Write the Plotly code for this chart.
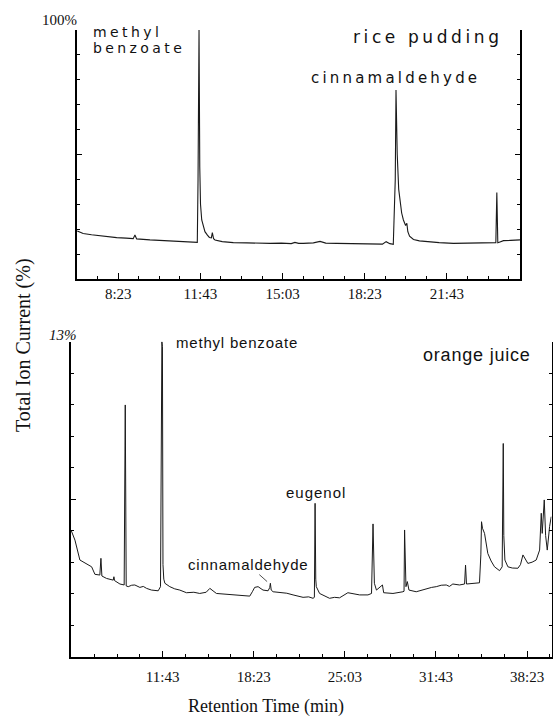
import plotly.graph_objects as go

# ---------------- data ----------------
# Top panel: rice pudding, retention time (min) vs total ion current (% of 100)
rice_time = [6.72, 6.96, 7.30, 7.64, 8.00, 8.32, 8.70, 8.99, 9.06, 9.13, 9.67, 10.00, 10.35,
             10.70, 11.02, 11.30, 11.59, 11.62, 11.66, 11.69, 11.72, 11.77, 11.84, 11.90,
             12.00, 12.08, 12.16, 12.20, 12.25, 12.31, 12.60, 13.05, 13.60, 14.27, 14.54,
             15.00, 15.40, 15.55, 15.70, 15.89, 16.30, 16.57, 16.80, 17.25, 17.70, 18.20,
             18.60, 19.10, 19.25, 19.40, 19.54, 19.62, 19.65, 19.70, 19.76, 19.81, 19.88,
             19.95, 20.04, 20.09, 20.13, 20.20, 20.36, 20.60, 20.90, 21.40, 21.98, 22.50,
             23.06, 23.40, 23.63, 23.70, 23.74, 23.78, 23.84, 24.01, 24.30, 24.68]
rice_val = [19.3, 18.3, 17.8, 17.3, 17.0, 16.6, 16.4, 16.2, 17.7, 16.1, 15.7, 15.5, 15.3,
            15.1, 15.0, 14.9, 14.7, 40.0, 100.0, 45.0, 30.0, 23.7, 20.5, 19.0,
            17.6, 16.7, 16.5, 18.6, 16.2, 15.7, 15.0, 14.6, 14.5, 14.3, 14.3,
            14.4, 14.2, 14.7, 14.3, 14.3, 14.5, 15.1, 14.4, 14.3, 14.2, 14.3,
            14.1, 14.0, 15.0, 14.2, 13.9, 40.0, 75.9, 50.0, 36.0, 31.7, 26.5,
            23.7, 21.5, 22.4, 19.0, 17.2, 15.9, 15.3, 15.0, 14.6, 14.3, 14.4,
            14.7, 14.5, 14.6, 14.6, 34.7, 14.6, 14.8, 15.4, 15.5, 15.7]

# Bottom panel: orange juice, retention time (min) vs total ion current (% of 13)
oj_time = [5.01, 5.30, 5.66, 6.15, 6.52, 6.76, 7.12, 7.20, 7.27, 7.61, 8.10, 8.15, 8.20,
           8.59, 8.90, 8.98, 9.05, 9.20, 9.45, 9.68, 10.05, 10.30, 10.54, 10.90, 11.39,
           11.56, 11.60, 11.63, 11.66, 11.70, 11.74, 11.80, 11.88, 12.24, 12.60, 12.97,
           13.46, 14.00, 14.43, 14.90, 15.17, 15.65, 16.30, 16.87, 17.50, 18.09, 18.30,
           18.45, 18.70, 19.06, 19.43, 19.55, 19.60, 19.66, 19.80, 20.28, 20.80, 21.26,
           21.99, 22.40, 22.72, 22.82, 22.87, 22.92, 22.96, 23.20, 23.60, 23.93, 24.30,
           24.66, 25.27, 25.70, 26.13, 26.74, 27.00, 27.11, 27.16, 27.21, 27.36, 27.80,
           27.89, 28.20, 28.57, 29.30, 29.38, 29.42, 29.47, 29.52, 29.62, 29.74, 30.27,
           30.70, 31.01, 31.40, 31.74, 32.10, 32.47, 32.70, 32.95, 33.20, 33.44, 33.81,
           33.88, 33.95, 34.40, 34.90, 35.00, 35.05, 35.12, 35.27, 35.51, 35.75, 36.00,
           36.37, 36.56, 36.64, 36.68, 36.76, 36.98, 37.30, 37.71, 37.90, 38.08, 38.44,
           38.75, 39.05, 39.30, 39.42, 39.49, 39.64, 39.74, 39.86, 40.03, 40.15]
oj_val = [5.23, 4.81, 3.99, 3.85, 3.71, 3.40, 3.37, 4.06, 3.33, 3.23, 3.16, 3.30, 3.14,
          3.00, 2.96, 10.39, 2.92, 2.89, 2.95, 2.96, 2.86, 2.90, 2.82, 2.75, 2.72,
          2.89, 7.91, 8.20, 13.00, 12.80, 3.80, 3.20, 3.03, 2.89, 2.80, 2.75,
          2.64, 2.66, 2.61, 2.66, 2.82, 2.61, 2.58, 2.55, 2.53, 2.50, 2.70,
          2.86, 2.89, 2.75, 2.72, 2.85, 3.03, 2.75, 2.68, 2.64, 2.62, 2.55,
          2.45, 2.47, 2.41, 2.45, 6.33, 3.20, 2.89, 2.61, 2.50, 2.41, 2.45,
          2.43, 2.64, 2.58, 2.55, 2.55, 2.61, 5.48, 3.60, 3.03, 2.75, 2.96,
          2.64, 2.62, 2.61, 2.68, 2.70, 5.23, 3.40, 2.89, 3.10, 2.75, 2.68,
          2.75, 2.82, 2.86, 2.89, 2.95, 2.96, 2.90, 3.00, 2.98, 2.96, 3.00,
          3.78, 3.00, 3.02, 3.05, 4.20, 5.57, 5.30, 5.09, 4.26, 3.95, 3.71,
          3.55, 3.71, 8.80, 5.00, 3.99, 3.71, 3.66, 3.65, 3.80, 4.20, 3.85,
          3.90, 3.99, 4.40, 5.92, 5.09, 6.47, 5.00, 4.40, 5.37, 5.78]

rice_ticks = [8 + 23 / 60, 11 + 43 / 60, 15 + 3 / 60, 18 + 23 / 60, 21 + 43 / 60]
rice_ticktext = ["8:23", "11:43", "15:03", "18:23", "21:43"]
oj_ticks = [11 + 43 / 60, 18 + 23 / 60, 25 + 3 / 60, 31 + 43 / 60, 38 + 23 / 60]
oj_ticktext = ["11:43", "18:23", "25:03", "31:43", "38:23"]

# ---------------- figure ----------------
W, H = 553, 717
def px(x):
    return x / W
def py(y):
    return 1 - y / H

LINE = "#1a1a1a"
SERIF = "Liberation Serif, Times New Roman, serif"
SANS_WIDE = "DejaVu Sans, sans-serif"
SANS = "Liberation Sans, Arial, sans-serif"

fig = go.Figure()
fig.add_trace(go.Scatter(x=rice_time, y=rice_val, mode="lines", xaxis="x", yaxis="y",
                         line=dict(color=LINE, width=1.1), hoverinfo="skip", showlegend=False))
fig.add_trace(go.Scatter(x=oj_time, y=oj_val, mode="lines", xaxis="x2", yaxis="y2",
                         line=dict(color=LINE, width=1.0), hoverinfo="skip", showlegend=False))

axis_common = dict(showgrid=False, zeroline=False, showline=True, linecolor="#000",
                   ticks="inside", tickcolor="#000", tickwidth=1)

fig.update_layout(
    width=W, height=H,
    margin=dict(l=0, r=0, t=0, b=0),
    paper_bgcolor="white", plot_bgcolor="white",
    xaxis=dict(domain=[px(77), px(520)], range=[6.71, 24.68], anchor="y",
               tickvals=rice_ticks, ticktext=rice_ticktext, ticklen=6, linewidth=1.5,
               minor=dict(dtick=50 / 60, tick0=rice_ticks[0], ticks="inside", ticklen=3,
                          tickcolor="#000"),
               tickfont=dict(family=SERIF, size=15, color="#111"), ticklabelstandoff=0,
               **axis_common),
    yaxis=dict(domain=[py(279), py(30)], range=[0, 100], anchor="x",
               tickvals=[50], ticklen=5, showticklabels=False, mirror="ticks", linewidth=1.5,
               minor=dict(dtick=10, tick0=0, ticks="inside", ticklen=3, tickcolor="#000"),
               **axis_common),
    xaxis2=dict(domain=[px(71), px(551.5)], range=[5.01, 40.17], anchor="y2",
                tickvals=oj_ticks, ticktext=oj_ticktext, ticklen=6, linewidth=1.5,
                minor=dict(dtick=100 / 60, tick0=oj_ticks[0], ticks="inside", ticklen=3,
                           tickcolor="#000"),
                tickfont=dict(family=SERIF, size=15, color="#111"), ticklabelstandoff=6,
                **axis_common),
    yaxis2=dict(domain=[py(656.7), py(341.7)], range=[0, 13], anchor="x2",
                tickvals=[6.5], ticklen=5, showticklabels=False, mirror="ticks", linewidth=1.5,
                minor=dict(dtick=1.3, tick0=0, ticks="inside", ticklen=3, tickcolor="#000"),
                **axis_common),
)

def sp(text, ls):
    return f'<span style="letter-spacing:{ls}px">{text}</span>'

ann = []
# top panel labels
ann.append(dict(xref="x", yref="y", x=7.30, y=99.0, xanchor="left", yanchor="middle",
                text=sp("methyl", 3.4), borderpad=0,
                font=dict(family=SANS_WIDE, size=14, color="#111"), showarrow=False))
ann.append(dict(xref="x", yref="y", x=7.30, y=92.9, xanchor="left", yanchor="middle",
                text=sp("benzoate", 3.4), borderpad=0,
                font=dict(family=SANS_WIDE, size=14, color="#111"), showarrow=False))
ann.append(dict(xref="x", yref="y", x=17.82, y=97, xanchor="left", yanchor="middle",
                text=sp("rice pudding", 3.6),
                font=dict(family=SANS_WIDE, size=17, color="#111"), showarrow=False))
ann.append(dict(xref="x", yref="y", x=19.61, y=80.6, xanchor="center", yanchor="middle",
                text=sp("cinnamaldehyde", 3.2),
                font=dict(family=SANS_WIDE, size=15, color="#111"), showarrow=False))
# bottom panel labels
ann.append(dict(xref="x2", yref="y2", x=12.55, y=12.95, xanchor="left", yanchor="middle",
                text=sp("methyl benzoate", 0.8),
                font=dict(family=SANS, size=15, color="#111"), showarrow=False))
ann.append(dict(xref="x2", yref="y2", x=30.6, y=12.45, xanchor="left", yanchor="middle",
                text=sp("orange juice", 0.8),
                font=dict(family=SANS, size=18, color="#111"), showarrow=False))
ann.append(dict(xref="x2", yref="y2", x=22.97, y=6.76, xanchor="center", yanchor="middle",
                text=sp("eugenol", 1),
                font=dict(family=SANS, size=15, color="#111"), showarrow=False))
ann.append(dict(xref="x2", yref="y2", x=19.36, y=3.1, ax=-19, ay=-17, axref="pixel",
                ayref="pixel", text=sp("cinnamaldehyde", 0.8), showarrow=True, arrowhead=0,
                arrowwidth=0.8, arrowcolor="#222", standoff=0,
                font=dict(family=SANS, size=15, color="#111")))
# axis scale labels and titles
ann.append(dict(xref="paper", yref="paper", x=px(59), y=py(20), xanchor="center",
                yanchor="middle", text="100%", showarrow=False,
                font=dict(family=SERIF, size=15, color="#111")))
ann.append(dict(xref="paper", yref="paper", x=px(63), y=py(335), xanchor="center",
                yanchor="middle", text="<i>13%</i>", showarrow=False,
                font=dict(family=SERIF, size=15, color="#111")))
ann.append(dict(xref="paper", yref="paper", x=px(23), y=py(345), xanchor="center",
                yanchor="middle", text="Total Ion Current (%)", textangle=-90, showarrow=False,
                font=dict(family=SERIF, size=20, color="#111")))
ann.append(dict(xref="paper", yref="paper", x=px(266), y=py(706), xanchor="center",
                yanchor="middle", text="Retention Time (min)", showarrow=False,
                font=dict(family=SERIF, size=18, color="#111")))
fig.update_layout(annotations=ann)

fig.write_html("out.html", config={"displayModeBar": False},
               post_script="document.body.style.margin='0';document.body.style.padding='0';"
                           "document.body.style.overflow='hidden';")
